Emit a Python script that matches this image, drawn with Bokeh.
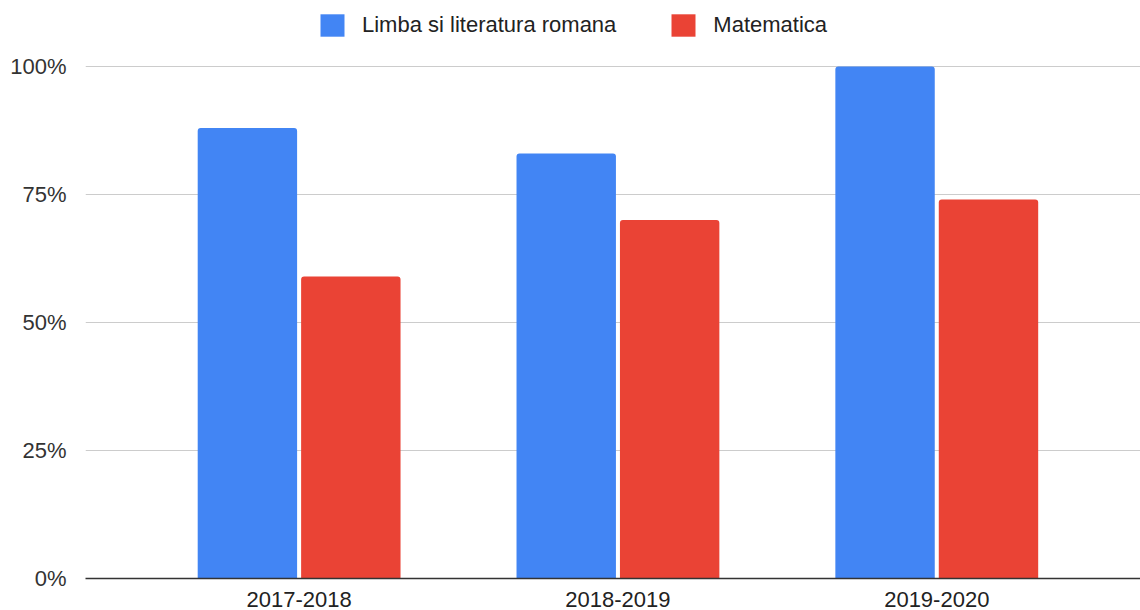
from bokeh.plotting import figure
from bokeh.models import (ColumnDataSource, Range1d, FixedTicker, NumeralTickFormatter,
                          Legend, LegendItem)
from bokeh.transform import dodge
from bokeh.embed import file_html
from bokeh.resources import INLINE

years = ["2017-2018", "2018-2019", "2019-2020"]
romana = [0.88, 0.83, 1.00]
matematica = [0.59, 0.70, 0.74]
series_names = ["Limba si literatura romana", "Matematica"]
colors = ["#4285F4", "#EA4335"]
y_ticks = [0, 0.25, 0.5, 0.75, 1.0]

idx = list(range(len(years)))
src = ColumnDataSource(data=dict(x=idx, romana=romana, matematica=matematica))

FONT = "Liberation Sans"

# frame spans the full height above the axis; the y range extends above 100%
# so that the legend can sit inside the frame at the top
p = figure(width=1140, height=610, output_backend="svg", toolbar_location=None,
           x_range=Range1d(-0.670, 2.639), y_range=Range1d(0, 1.1289),
           min_border_left=85, min_border_right=0, min_border_top=0, min_border_bottom=32)
p.outline_line_color = None
p.background_fill_color = "white"

w = 0.3118
off = 0.1622
r1 = p.vbar(x=dodge("x", -off), top="romana", width=w, source=src,
            fill_color=colors[0], line_color=None, border_radius=(3, 3, 0, 0))
r2 = p.vbar(x=dodge("x", off), top="matematica", width=w, source=src,
            fill_color=colors[1], line_color=None, border_radius=(3, 3, 0, 0))

# axes
p.xaxis.ticker = FixedTicker(ticks=idx)
p.xaxis.major_label_overrides = {i: y for i, y in enumerate(years)}
p.xaxis.axis_line_color = "#333333"
p.xaxis.axis_line_width = 1.5
p.xaxis.major_tick_line_color = None
p.xaxis.minor_tick_line_color = None
p.xaxis.major_label_standoff = 7
p.xaxis.major_label_text_font = FONT
p.xaxis.major_label_text_font_size = "22px"
p.xaxis.major_label_text_color = "#222222"

p.yaxis.ticker = FixedTicker(ticks=y_ticks)
p.yaxis.formatter = NumeralTickFormatter(format="0%")
p.yaxis.axis_line_color = None
p.yaxis.major_tick_line_color = None
p.yaxis.minor_tick_line_color = None
p.yaxis.major_label_standoff = 13
p.yaxis.major_label_text_font = FONT
p.yaxis.major_label_text_font_size = "22px"
p.yaxis.major_label_text_color = "#333333"

p.xgrid.grid_line_color = None
p.ygrid.ticker = FixedTicker(ticks=y_ticks)
p.ygrid.grid_line_color = "#cccccc"
p.ygrid.grid_line_width = 1

legend = Legend(items=[LegendItem(label=series_names[0], renderers=[r1]),
                       LegendItem(label=series_names[1], renderers=[r2])],
                orientation="horizontal", location=(232, 539),
                glyph_width=30, glyph_height=28, label_standoff=15, spacing=52,
                padding=0, margin=0, border_line_color=None, background_fill_alpha=0,
                label_text_font=FONT, label_text_font_size="22px",
                label_text_color="#222222")
p.add_layout(legend, "center")

open("out.html", "w").write(file_html(p, INLINE))
